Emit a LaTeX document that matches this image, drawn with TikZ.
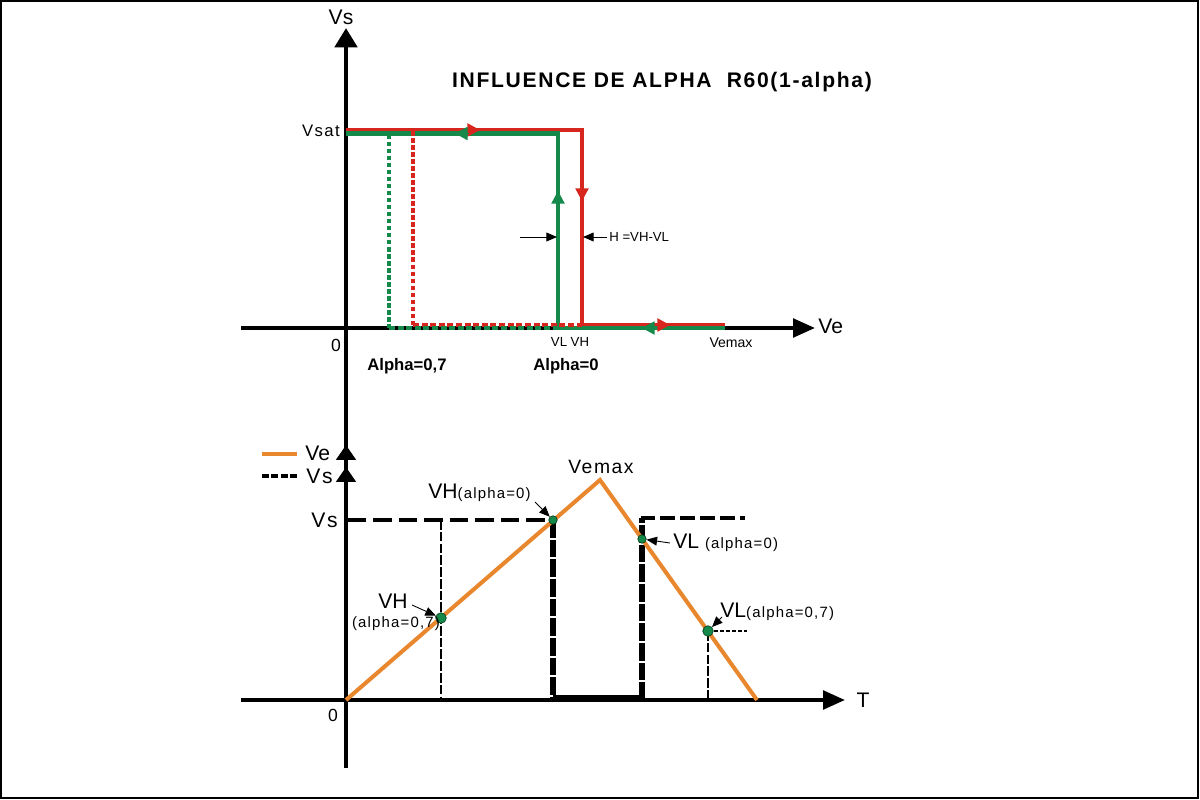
\documentclass[tikz,border=0pt]{standalone}
\usepackage{fontspec}
\setmainfont{Liberation Sans}
\newfontfamily\spaced[LetterSpace=8]{Liberation Sans}
\usetikzlibrary{arrows.meta}
\definecolor{hystRed}{HTML}{D7261E}
\definecolor{hystGreen}{HTML}{14894A}
\definecolor{rampOrange}{HTML}{E8872E}

\begin{document}
\begin{tikzpicture}[x=0.02cm, y=-0.02cm,
  axis/.style={line width=2.3pt, black},
  bigtip/.style={-{Triangle[length=11pt,width=12.5pt]}},
  sidetip/.style={-{Triangle[length=12.5pt,width=10.5pt]}},
  minitip/.style={-{Triangle[length=7.2pt,width=7.5pt]}},
  hyst/.style={line width=2.3pt},
  hystdash/.style={hyst, dash pattern=on 2.6pt off 1.4pt},
  flatdash/.style={hyst, dash pattern=on 3.4pt off 1.5pt},
  vsdash/.style={line width=2.7pt, dash pattern=on 10.5pt off 4pt},
  vsdrop/.style={line width=3pt, dash pattern=on 10pt off 1.2pt},
  guide/.style={line width=1.4pt, dash pattern=on 5.5pt off 1.2pt},
  dot/.style={circle, fill=hystGreen, draw=black!50!hystGreen, line width=0.4pt, inner sep=0pt, minimum size=#1},
  leader/.style={line width=0.5pt, -{Triangle[length=6pt,width=5pt]}},
  lbl/.style={inner sep=0pt, font=\fontsize{#1}{#1}\selectfont},
  slbl/.style={inner sep=0pt, font=\spaced\fontsize{#1}{#1}\selectfont}]
  \useasboundingbox (0,0) rectangle (1200,800);
  \draw[line width=1.2pt] (1,1) rectangle (1198,798);

  % axes
  \draw[axis, line width=2.8pt, bigtip] (346,768) -- (346,28);
  \draw[axis, sidetip] (241,328) -- (815,328);
  \draw[axis, sidetip] (241,700) -- (845,700);
  \draw[axis, line width=2.8pt, -{Triangle[length=8.5pt,width=11pt]}] (346,462) -- (346,445);
  \draw[axis, line width=2.8pt, -{Triangle[length=8.5pt,width=11pt]}] (346,484) -- (346,467);

  % hysteresis cycles
  \draw[hyst, hystRed] (346,130) -- (582,130) -- (582,325) -- (725,325);
  \draw[hyst, hystGreen] (346,133.5) -- (558,133.5) -- (558,328) -- (725,328);
  \draw[hystdash, hystRed] (413,131) -- (413,325);
  \draw[hystdash, hystGreen] (389,134.5) -- (389,328);
  \draw[flatdash, hystRed] (413,325) -- (582,325);
  \draw[flatdash, hystGreen] (389,328) -- (558,328);
  \draw[hystRed, line width=1pt, minitip] (466,130) -- (480,130);
  \draw[hystGreen, line width=1pt, minitip] (469,133.5) -- (455,133.5);
  \draw[hystGreen, line width=1pt, minitip] (558,206) -- (558,191);
  \draw[hystRed, line width=1pt, minitip] (582,186) -- (582,201);
  \draw[hystRed, line width=1pt, minitip] (656,325) -- (670,325);
  \draw[hystGreen, line width=1pt, minitip] (656,328) -- (642,328);

  \coordinate (h left) at (520,237);
  \coordinate (h vl) at (557,237);
  \coordinate (h right) at (607,237);
  \coordinate (h vh) at (583,237);
  \draw[leader] (h left) -- (h vl);
  \draw[leader] (h right) -- (h vh);

  \node[lbl=12] (vs axis) at (341,17) {Vs};
  \node[slbl=9.5, anchor=east] (vsat) at (340,131) {Vsat};
  \node[lbl=10] (zero top) at (336,345) {0};
  \node[lbl=12, anchor=west] (ve axis) at (818,326) {Ve};
  \node[lbl=7.5, anchor=west] (hyst width) at (609,237) {H =VH-VL};
  \node[lbl=7.5] (vl vh) at (570,342) {VL VH};
  \node[lbl=8] (vemax top) at (731,343) {Vemax};
  \node[lbl=9.5, font=\fontsize{9.5}{10}\selectfont\bfseries] (alpha seven) at (407,366) {Alpha=0,7};
  \node[lbl=9.5, font=\fontsize{9.5}{10}\selectfont\bfseries] (alpha zero) at (566,366) {Alpha=0};
  \node[inner sep=0pt, font=\spaced\bfseries\fontsize{12}{13}\selectfont] (title) at (662,82) {INFLUENCE DE ALPHA\ \ R60(1-alpha)};

  % time diagram
  \draw[guide] (441,520) -- (441,700);
  \draw[guide] (708,631) -- (708,700);
  \draw[line width=1.1pt, dash pattern=on 2.3pt off 1.1pt] (708,631) -- (747,631);
  \draw[vsdash] (348,520) -- (553,520);
  \draw[vsdrop] (553,520) -- (553,700);
  \draw[line width=3pt] (553,698) -- (642,698);
  \draw[vsdrop] (642,700) -- (642,518);
  \draw[line width=2.7pt, dash pattern=on 8.5pt off 2.8pt] (640.5,518) -- (745,518);
  \draw[line width=2.3pt, rampOrange] (346,700) -- (600,480) -- (757,700);

  \node[dot=6pt] (dot vh7) at (441,618) {};
  \node[dot=4.8pt] (dot vh0) at (553,520) {};
  \node[dot=4.8pt] (dot vl0) at (642,539) {};
  \node[dot=6pt] (dot vl7) at (708,631) {};

  \draw[line width=2.3pt, rampOrange] (262,454) -- (297,454);
  \draw[line width=2.7pt, dash pattern=on 4pt off 1.3pt] (262,476) -- (297,476);
  \node[lbl=12, anchor=west] (leg ve) at (305,453) {Ve};
  \node[slbl=12, anchor=west] (leg vs) at (306,476) {Vs};
  \node[slbl=12, anchor=east] (vs level) at (338,520) {Vs};
  \node[lbl=10] (zero bot) at (333,715) {0};
  \node[lbl=12] (t axis) at (863,700) {T};
  \node[slbl=11] (vemax bot) at (601,467) {Vemax};

  \node[lbl=12, anchor=base west] (lab vh0) at (428,498) {VH{\spaced\fontsize{8.5}{9}\selectfont(alpha=0)}};
  \node[lbl=12, anchor=base west] (lab vl0) at (673,548) {VL {\spaced\fontsize{8.5}{9}\selectfont(alpha=0)}};
  \node[lbl=12, anchor=base west] (lab vl7) at (720,617) {VL{\spaced\fontsize{8.5}{9}\selectfont(alpha=0,7)}};
  \node[lbl=12] (lab vh7) at (393,601) {VH};
  \node[slbl=8.5] (lab vh7 sub) at (396,624) {(alpha=0,7)};

  \coordinate (lead vh0) at (535,502);
  \coordinate (lead vl0) at (670,543);
  \coordinate (lead vh7) at (412,605);
  \coordinate (lead vl7) at (722,617);
  \draw[leader] (lead vh0) -- (dot vh0);
  \draw[leader] (lead vl0) -- (dot vl0);
  \draw[leader] (lead vh7) -- (dot vh7);
  \draw[leader] (lead vl7) -- (dot vl7);
\end{tikzpicture}
\end{document}
